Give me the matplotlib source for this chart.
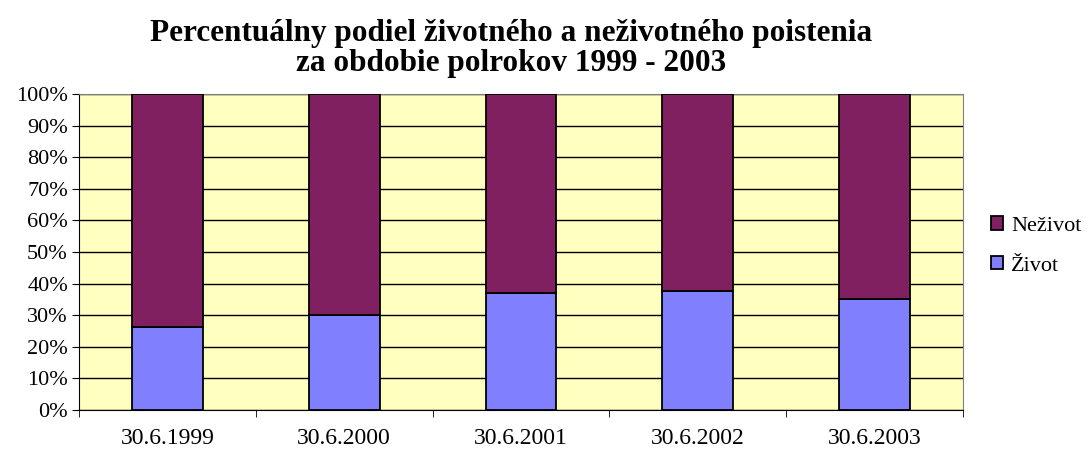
import numpy as np
import matplotlib.pyplot as plt
from matplotlib.patches import Patch

plt.rcParams['font.family'] = ['Liberation Serif', 'DejaVu Serif']

# data
kategorie = ['30.6.1999', '30.6.2000', '30.6.2001', '30.6.2002', '30.6.2003']
zivot = [26.4, 30.1, 37.1, 37.7, 35.1]
nezivot = [100 - v for v in zivot]

fig = plt.figure(figsize=(10.88, 4.51), dpi=100)
ax = fig.add_axes([79/1088, 41/451, 884/1088, 316/451])
ax.set_facecolor('#FFFFC0')

x = np.arange(len(kategorie))
ax.bar(x, zivot, width=0.4, color='#8080FF', edgecolor='black', linewidth=1.3, zorder=3)
ax.bar(x, nezivot, width=0.4, bottom=zivot, color='#802060', edgecolor='black', linewidth=1.3, zorder=3)

ax.set_xlim(-0.5, len(kategorie) - 0.5)
ax.set_ylim(0, 100)
ax.set_yticks(np.arange(0, 101, 10))
ax.set_yticklabels([f'{v}%' for v in range(0, 101, 10)], fontsize=16)
ax.yaxis.grid(True, color='black', linewidth=1, zorder=1)
ax.set_axisbelow(True)

ax.set_xticks(x)
ax.set_xticklabels(kategorie, fontsize=17)
ax.tick_params(axis='x', length=0, pad=13)
ax.set_xticks(np.arange(-0.5, len(kategorie)), minor=True)
ax.tick_params(axis='x', which='minor', length=5, direction='out')
ax.tick_params(axis='y', length=5, direction='out', pad=3)

for s in ['top', 'right']:
    ax.spines[s].set_color('#808080')
for s in ['left', 'bottom']:
    ax.spines[s].set_color('black')

fig.text(0.47, 0.892, 'Percentuálny podiel životného a neživotného poistenia\nza obdobie polrokov 1999 - 2003',
         ha='center', va='center', fontsize=22.5, fontweight='bold', linespacing=1.05)

handles = [Patch(facecolor='#802060', edgecolor='black', linewidth=1.3),
           Patch(facecolor='#8080FF', edgecolor='black', linewidth=1.3)]
fig.legend(handles, ['Neživot', 'Život'], loc='center left', bbox_to_anchor=(991/1088, 1 - 246/451),
           frameon=False, fontsize=16, handlelength=0.55, handleheight=0.55, handletextpad=0.35,
           labelspacing=0.9, borderpad=0, borderaxespad=0)

fig.savefig('out.png', dpi=100)
